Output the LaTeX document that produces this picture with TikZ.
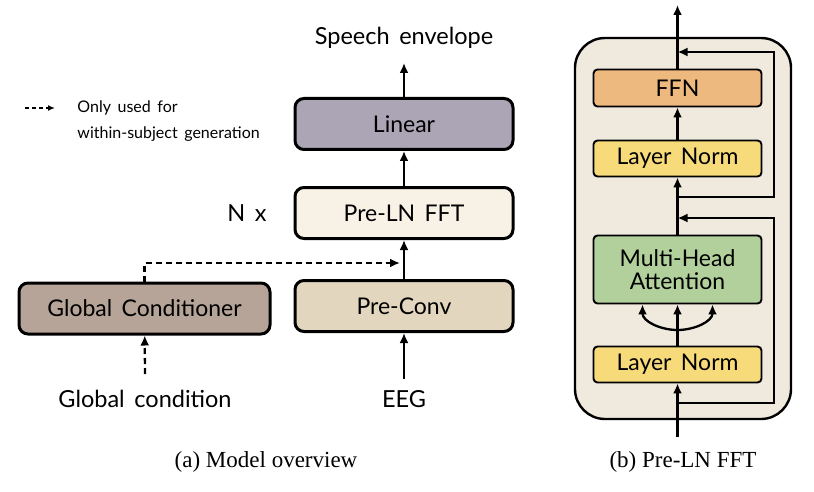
\documentclass[tikz,border=0pt]{standalone}
\usepackage{fontspec}
\setmainfont{Lato}[WordSpace=1.6]
\newfontfamily\capfont{Liberation Serif}
\usetikzlibrary{arrows.meta}

\definecolor{linearc}{HTML}{ABA5B5}
\definecolor{fftc}{HTML}{F8F1E6}
\definecolor{convc}{HTML}{E3D6BF}
\definecolor{gcondc}{HTML}{B5A497}
\definecolor{outerc}{HTML}{F0E9DE}
\definecolor{ffnc}{HTML}{EEB97E}
\definecolor{lnc}{HTML}{F7DB7B}
\definecolor{mhac}{HTML}{B1D09B}

\begin{document}
\begin{tikzpicture}[x=1pt, y=-1pt, >={Latex[length=10pt,width=9pt]}, line width=2.3pt,
    lbox/.style={draw, line width=3pt, rounded corners=9pt, minimum width=218pt,
        minimum height=51pt, font=\fontsize{23}{26}\selectfont},
    rbox/.style={draw, line width=1.9pt, rounded corners=4pt, minimum width=168pt,
        font=\fontsize{23}{26}\selectfont},
    lbl/.style={font=\fontsize{23.5}{26}\selectfont},
    dashline/.style={dash pattern=on 6pt off 4pt},
    captext/.style={font=\capfont\fontsize{23}{26}\selectfont}]
    \useasboundingbox (0,0) rectangle (814,492);

    % (a) model overview
    \node[lbox, fill=linearc] (linear) at (404,124) {Linear};
    \node[lbox, fill=fftc] (fft) at (404,213) {Pre-LN FFT};
    \node[lbox, fill=convc] (preconv) at (404,306) {Pre-Conv};
    \node[lbox, fill=gcondc, minimum width=251pt] (gcond) at (144.5,308.5) {Global Conditioner};
    \node[lbl] (speech) at (404,38) {Speech envelope};
    \node[lbl] (nx) at (247,213) {N x};
    \node[lbl] (gcin) at (145,399) {Global condition};
    \node[lbl] (eeg) at (404,399) {EEG};

    \coordinate (speechtip) at (404,63);
    \coordinate (gctail) at (145,374);
    \coordinate (eegtail) at (404,379);
    \coordinate (merge) at (400,263);
    \draw[->] (linear) -- (speechtip);
    \draw[->] (fft) -- (linear);
    \draw[->] (preconv) -- (fft);
    \draw[->] (eegtail) -- (preconv);
    \draw[->, dashline] (gctail) -- (gcond);
    \draw[->, dashline] (gcond) |- (merge);

    % legend
    \coordinate (lgstart) at (25,108);
    \coordinate (lgend) at (55,108);
    \draw[-{Latex[length=7pt,width=6pt]}, dash pattern=on 4pt off 3pt, line width=1.6pt] (lgstart) -- (lgend);
    \node[anchor=west, font=\fontsize{16}{18}\selectfont] (lgone) at (73,108) {Only used for};
    \node[anchor=west, font=\fontsize{16}{18}\selectfont] (lgtwo) at (73,134) {within-subject generation};

    % (b) pre-LN FFT block
    \node[draw, line width=2.4pt, rounded corners=30pt, fill=outerc, minimum width=216pt,
        minimum height=381pt] (fftblk) at (683,228.5) {};
    \node[rbox, fill=ffnc, minimum height=37pt] (ffn) at (677.5,88) {FFN};
    \node[rbox, fill=lnc, minimum height=36pt] (lntwo) at (677.5,158.5) {Layer Norm};
    \node[rbox, fill=mhac, minimum height=68pt, align=center] (mha) at (677.5,269.5) {Multi-Head\\[-3pt]Attention};
    \node[rbox, fill=lnc, minimum height=36pt] (lnone) at (677.5,364.5) {Layer Norm};

    \coordinate (blkin) at (677.5,437);
    \coordinate (blkout) at (677.5,5);
    \coordinate (resonea) at (677.5,403);
    \coordinate (resoneb) at (677.5,218);
    \coordinate (restwoa) at (677.5,197);
    \coordinate (restwob) at (677.5,52);
    \coordinate (split) at (677.5,330);
    \draw[->] (blkin) -- (lnone);
    \draw[->] (lnone) -- (mha);
    \draw[->] (split) to[out=180, in=-90] ([xshift=-35pt]mha.south);
    \draw[->] (split) to[out=0, in=-90] ([xshift=35pt]mha.south);
    \draw[->] (mha) -- (lntwo);
    \draw[->] (lntwo) -- (ffn);
    \draw[->] (ffn) -- (blkout);
    \draw[->, line width=2pt] (resonea) -- ++(96.5,0) |- (resoneb);
    \draw[->, line width=2pt] (restwoa) -- ++(96.5,0) |- (restwob);

    % captions
    \node[captext] (capa) at (266,462) {(a) Model overview};
    \node[captext] (capb) at (683,462) {(b) Pre-LN FFT};
\end{tikzpicture}
\end{document}
